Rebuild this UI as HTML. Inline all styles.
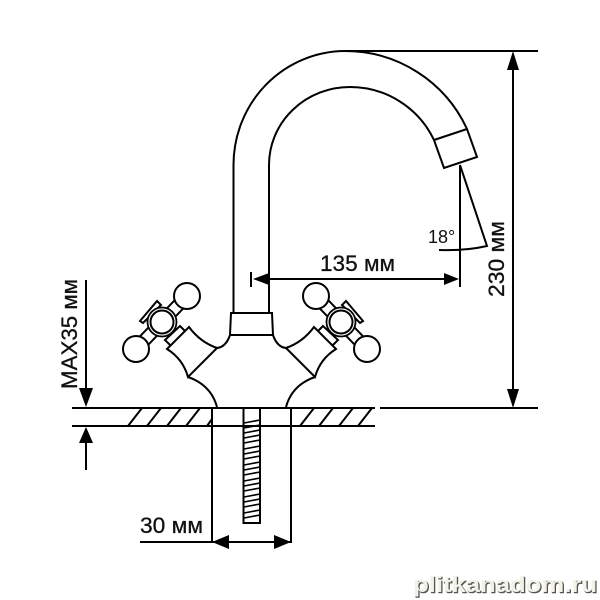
<!DOCTYPE html>
<html><head><meta charset="utf-8"><style>html,body{margin:0;padding:0;background:#fff}svg{display:block}</style></head>
<body><svg width="600" height="600" viewBox="0 0 600 600" xmlns="http://www.w3.org/2000/svg" font-family="'Liberation Sans',sans-serif">
<defs><g id="h">
<path d="M131.8 344.8L182.8 291.8L191.2 300.2L140.2 353.2Z" fill="#fff" stroke="#000" stroke-width="2"/>
<path d="M165 340L180 326L186 332L171 346Z" fill="#fff" stroke="#000" stroke-width="2"/>
<path d="M140 321L157 301L161 305L143 323Z" fill="#fff" stroke="#000" stroke-width="2"/>
<circle cx="162" cy="322" r="14.5" fill="#fff" stroke="#000" stroke-width="1.8"/>
<circle cx="162" cy="322" r="11.5" fill="#fff" stroke="#000" stroke-width="2"/>
<circle cx="187" cy="296" r="13" fill="#fff" stroke="#000" stroke-width="2"/>
<circle cx="136" cy="349" r="13" fill="#fff" stroke="#000" stroke-width="2"/>
<path d="M167 349L189 327Q200 342 217 348L188 377Q183 359 167 349Z" fill="#fff" stroke="#000" stroke-width="2"/>
<path d="M230 335Q226 347 217 348M188 377Q211 385 217 407" fill="none" stroke="#000" stroke-width="2"/>
</g></defs>
<g fill="none" stroke="#000" stroke-width="2">
<path d="M233.5 313V165A112 114 0 0 1 345 51A134 134 0 0 1 467 129L477 157L444 168L434 140A93 93 0 0 0 350 87A81 78 0 0 0 269 165V313"/>
<path d="M434 140L467 129"/>
<path d="M231 313H272L273 335H230Z"/>
<path d="M345 51H538M380 408H538M513 60V400"/>
<path d="M72 408H375M72 426H375"/>
<path d="M128 426L142 408M147 426L161 408M167 426L181 408M186 426L200 408M207 426L212 419M300 426L314 408M319 426L333 408M339 426L353 408M358 426L372 408"/>
<path d="M212 408V543M291 408V543M140 542H291"/>
<path d="M243.5 408V523H260V408M243.5 408"/>
<path d="M86 280V395M86 437V470"/>
<path d="M260 279H455M251 272V287M460 165V287M460 165L487 246Q465 251 439 250"/>
</g>
<g fill="none" stroke="#000" stroke-width="1.6">
<path d="M244 423L260 420M244 428L260 425M244 433L260 430M244 438L260 435M244 443L260 440M244 449L260 446M244 454L260 451M244 459L260 456M244 465L260 462M244 470L260 467M244 475L260 472M244 481L260 478M244 486L260 483M244 491L260 488M244 497L260 494M244 502L260 499M244 507L260 504M244 513L260 510M244 518L260 515"/>
</g>
<g fill="#000">
<path d="M253 279L269 273V285Z"/>
<path d="M459 279L444 273V285Z"/>
<path d="M513 51L507 70H519Z"/>
<path d="M513 408L507 389H519Z"/>
<path d="M86 407L79 388H93Z"/>
<path d="M86 427L79 443H93Z"/>
<path d="M212 542L229 535V549Z"/>
<path d="M291 542L274 535V549Z"/>
</g>
<use href="#h"/>
<use href="#h" transform="translate(503,0) scale(-1,1)"/>
<g fill="#111" stroke="#111" stroke-width="0.3">
<text x="320" y="271" font-size="22" textLength="75" lengthAdjust="spacingAndGlyphs">135 мм</text>
<text x="140" y="533" font-size="22" textLength="63" lengthAdjust="spacingAndGlyphs">30 мм</text>
<text x="428" y="243" font-size="18" stroke-width="0">18°</text>
<text transform="translate(504,297) rotate(-90)" font-size="22" textLength="76" lengthAdjust="spacingAndGlyphs">230 мм</text>
<text transform="translate(77,389) rotate(-90)" font-size="22" textLength="110" lengthAdjust="spacingAndGlyphs">MAX35 мм</text>
</g>
<text x="414" y="593" font-size="22" font-weight="bold" textLength="184" lengthAdjust="spacingAndGlyphs" fill="#555" stroke="#555" stroke-width="0.6">plitkanadom.ru</text>
<text x="413" y="592" font-size="22" font-weight="bold" textLength="184" lengthAdjust="spacingAndGlyphs" fill="#f2f2e6">plitkanadom.ru</text>
</svg></body></html>
